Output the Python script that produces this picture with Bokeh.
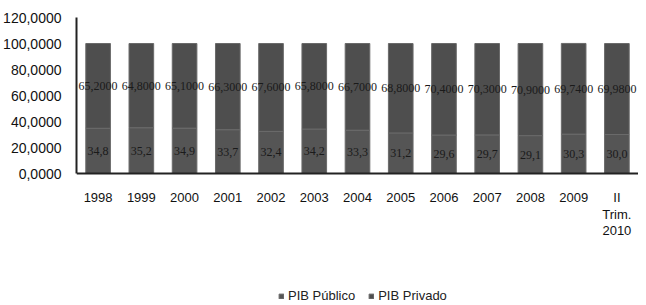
from bokeh.plotting import figure
from bokeh.models import (ColumnDataSource, Range1d, FactorRange, CustomJSTickFormatter,
                          FixedTicker, LabelSet, Legend, LegendItem)
from bokeh.core.properties import value
from bokeh.embed import file_html
from bokeh.resources import INLINE

years = ["1998", "1999", "2000", "2001", "2002", "2003", "2004", "2005", "2006", "2007", "2008", "2009", "II Trim. 2010"]
last_label_lines = ["II", "Trim.", "2010"]
pib_publico = [34.8, 35.2, 34.9, 33.7, 32.4, 34.2, 33.3, 31.2, 29.6, 29.7, 29.1, 30.3, 30.0]
pib_privado = [65.2, 64.8, 65.1, 66.3, 67.6, 65.8, 66.7, 68.8, 70.4, 70.3, 70.9, 69.74, 69.98]
series_names = ["PIB Público", "PIB Privado"]
y_ticks = [0, 20, 40, 60, 80, 100, 120]

pub_labels = [("%.1f" % v).replace(".", ",") for v in pib_publico]
priv_labels = [("%.4f" % v).replace(".", ",") for v in pib_privado]
pub_mid = [v / 2 for v in pib_publico]
priv_mid = [a + b / 2 for a, b in zip(pib_publico, pib_privado)]
top = [a + b for a, b in zip(pib_publico, pib_privado)]

src = ColumnDataSource(dict(x=years, pub=pib_publico, priv=pib_privado, top=top,
                            pub_lab=pub_labels, priv_lab=priv_labels,
                            pub_mid=pub_mid, priv_mid=priv_mid))

# the frame extends below zero so that the labels and legend under the bars are not clipped
p = figure(width=638, height=303, x_range=FactorRange(*years, range_padding=0),
           y_range=Range1d(-100, 120), output_backend="svg", toolbar_location=None,
           min_border_left=73, min_border_right=0, min_border_top=17, min_border_bottom=0)
p.outline_line_color = None
p.xgrid.grid_line_color = None
p.ygrid.grid_line_color = None
p.x_range.range_padding = 0

pub_color = "#555555"
priv_color = "#4e4e4e"
r1 = p.vbar(x="x", bottom=0, top="pub", width=0.57, source=src,
            fill_color=pub_color, line_color="#6a6a6a", line_width=1)
r2 = p.vbar(x="x", bottom="pub", top="top", width=0.57, source=src,
            fill_color=priv_color, line_color="#6a6a6a", line_width=1)

lab_font = value("Liberation Serif")
p.add_layout(LabelSet(x="x", y="pub_mid", text="pub_lab", source=src, text_align="center",
                      text_baseline="middle", text_font=lab_font, text_font_size="12px",
                      text_color="#1a1a1a"))
p.add_layout(LabelSet(x="x", y="priv_mid", text="priv_lab", source=src, text_align="center",
                      text_baseline="middle", text_font=lab_font, text_font_size="12px",
                      text_color="#1a1a1a"))

p.yaxis.ticker = FixedTicker(ticks=y_ticks)
p.yaxis.bounds = (0, 120)
p.yaxis.formatter = CustomJSTickFormatter(code="return tick.toFixed(4).replace('.', ',');")
p.yaxis.major_tick_line_color = None
p.yaxis.minor_tick_line_color = None
p.yaxis.axis_line_color = "#222222"
p.yaxis.axis_line_width = 2
p.yaxis.major_label_text_font = "Liberation Sans"
p.yaxis.major_label_text_font_size = "14px"
p.yaxis.major_label_text_color = "#111111"
p.yaxis.major_label_standoff = 9

p.xaxis.fixed_location = 0
p.xaxis.major_tick_line_color = None
p.xaxis.axis_line_color = "#222222"
p.xaxis.axis_line_width = 2
p.xaxis.major_label_text_font = "Liberation Sans"
p.xaxis.major_label_text_font_size = "13px"
p.xaxis.major_label_text_color = "#111111"
p.xaxis.major_label_standoff = 10
p.xaxis.formatter = CustomJSTickFormatter(
    args=dict(full=years[-1], first=last_label_lines[0]),
    code="return (tick == full) ? first : tick;")

# remaining lines of the last category label
last_src = ColumnDataSource(dict(x=[years[-1]] * 2, y=[0, 0], t=last_label_lines[1:],
                                 off=[-41, -57]))
p.add_layout(LabelSet(x="x", y="y", text="t", source=last_src, text_align="center",
                      text_baseline="middle", y_offset="off",
                      text_font=value("Liberation Sans"), text_font_size="13px",
                      text_color="#111111"))

legend = Legend(items=[LegendItem(label=series_names[0], renderers=[r1]),
                       LegendItem(label=series_names[1], renderers=[r2])],
                orientation="horizontal", location=(202, 0),
                glyph_width=6, glyph_height=6, label_height=10, label_width=10,
                label_standoff=4, spacing=13,
                label_text_font="Liberation Sans", label_text_font_size="13px",
                label_text_color="#222222", background_fill_alpha=0,
                border_line_color=None, padding=0, margin=0)
p.add_layout(legend)

open("out.html", "w").write(file_html(p, INLINE))
